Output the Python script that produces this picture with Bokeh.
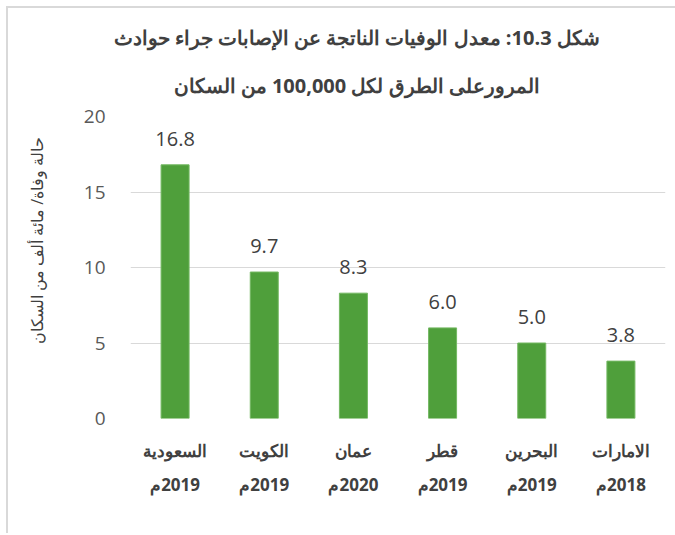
import math
from bokeh.plotting import figure
from bokeh.models import Range1d, FixedTicker, LabelSet, ColumnDataSource, CategoricalAxis, Title, FactorRange
from bokeh.embed import file_html
from bokeh.resources import INLINE
from bokeh.core.properties import value

# ---- data ----
countries = ["السعودية", "الكويت", "عمان", "قطر", "البحرين", "الامارات"]
years = ["2019م", "2019م", "2020م", "2019م", "2019م", "2018م"]
rates = [16.8, 9.7, 8.3, 6.0, 5.0, 3.8]
y_ticks = [0, 5, 10, 15, 20]
title_line1 = "شكل 10.3:  معدل الوفيات الناتجة عن الإصابات جراء حوادث"
title_line2 = "المرورعلى الطرق لكل 100,000 من السكان"
y_label = "حالة وفاة/ مائة ألف من السكان"

RLM = "\u200f"
NBSP = "\u00a0"

FONT = "Open Sans"
BAR = "#4F9F3B"
GRID = "#D9D9D9"
TXT = "#404040"

# year labels for a second categorical axis (made unique with invisible RLM marks)
year_factors = [RLM * (i + 1) + y for i, y in enumerate(years)]

p = figure(x_range=countries, y_range=Range1d(0, 20),
           frame_width=535, frame_height=302,
           min_border_left=122, min_border_right=10,
           min_border_top=108, min_border_bottom=115,
           output_backend="svg", toolbar_location=None,
           outline_line_color=None)
p.extra_x_ranges = {"years": FactorRange(factors=year_factors)}
p.styles = {"margin-left": "6px", "margin-top": "6px",
            "border-left": "2px solid #D9D9D9", "border-top": "2px solid #D9D9D9"}

src = ColumnDataSource(dict(x=countries, top=rates, lab=[f"{v:.1f}" for v in rates]))
p.vbar(x="x", top="top", width=0.314, source=src, fill_color=BAR, line_color="#74B862", line_width=1)

labels = LabelSet(x="x", y="top", text="lab", source=src, y_offset=26,
                  text_align="center", text_baseline="middle",
                  text_font=value(FONT), text_font_size="20px", text_color=TXT)
p.add_layout(labels)

# grid / axes
p.xgrid.visible = False
p.ygrid.ticker = FixedTicker(ticks=y_ticks)
p.ygrid.grid_line_color = GRID
p.ygrid.grid_line_width = 1

p.yaxis.ticker = FixedTicker(ticks=y_ticks)
p.yaxis.axis_line_color = None
p.yaxis.major_tick_line_color = None
p.yaxis.minor_tick_line_color = None
p.yaxis.major_label_standoff = 19
p.yaxis.major_label_text_font = FONT
p.yaxis.major_label_text_font_size = "19px"
p.yaxis.major_label_text_color = "#595959"
p.yaxis.axis_label = NBSP * 13 + y_label
p.yaxis.axis_label_text_font = FONT
p.yaxis.axis_label_text_font_size = "16px"
p.yaxis.axis_label_text_font_style = "normal"
p.yaxis.axis_label_text_color = TXT
p.yaxis.axis_label_standoff = 33


def style_x(ax, standoff):
    ax.axis_line_color = None
    ax.major_tick_line_color = None
    ax.minor_tick_line_color = None
    ax.major_label_text_font = FONT
    ax.major_label_text_font_size = "17px"
    ax.major_label_text_font_style = "bold"
    ax.major_label_text_color = TXT
    ax.major_label_standoff = standoff


ax1 = p.below[0]
style_x(ax1, 14)
ax2 = CategoricalAxis(x_range_name="years")
style_x(ax2, 2)
p.add_layout(ax2, "below")

# titles (the added Title sits closest to the plot)
p.title.text = title_line1
p.title.align = "left"
p.title.offset = -17
p.title.text_font = FONT
p.title.text_font_size = "20px"
p.title.text_font_style = "bold"
p.title.text_color = TXT
p.title.standoff = 3
t2 = Title(text=title_line2, align="left", offset=43, text_font=FONT, text_font_size="20px",
           text_font_style="bold", text_color=TXT, standoff=35)
p.add_layout(t2, "above")

open("out.html", "w").write(file_html(p, INLINE))
